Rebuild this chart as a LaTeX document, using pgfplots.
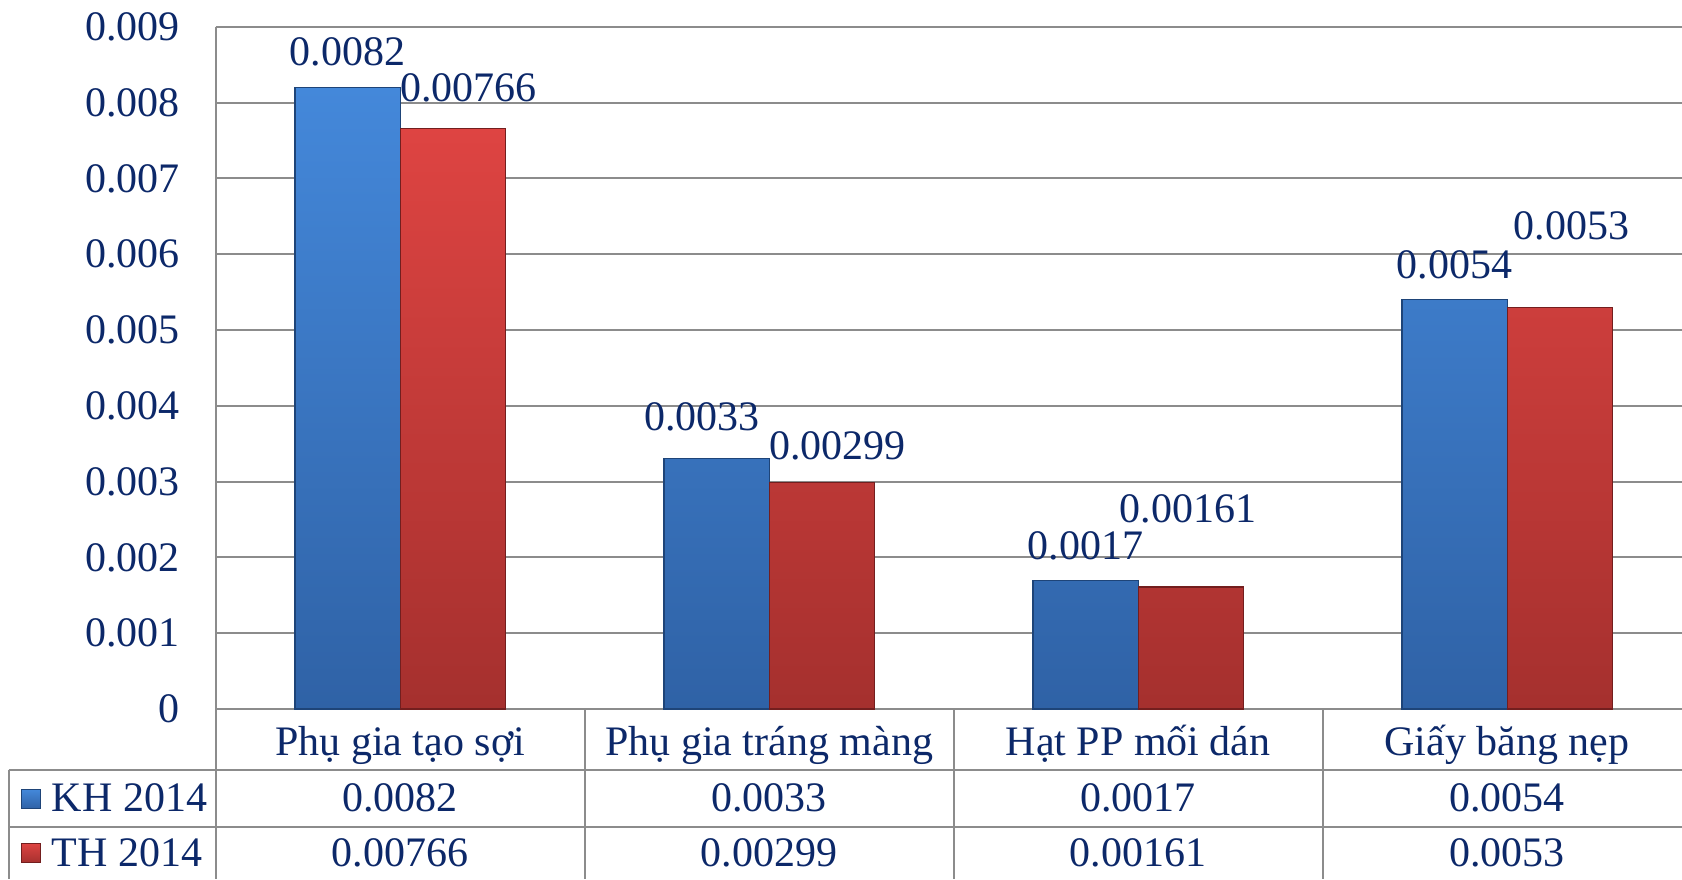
\documentclass[border=0pt]{standalone}
\usepackage{fontspec}
\setmainfont{Liberation Serif}
\usepackage{pgfplots}
\pgfplotsset{compat=1.18}
\usepackage{pgfplotstable}

\definecolor{txt}{RGB}{12,40,105}
\definecolor{gridc}{RGB}{140,140,140}
\definecolor{bluetop}{RGB}{68,136,218}
\definecolor{bluebot}{RGB}{47,98,166}
\definecolor{blueedge}{RGB}{30,68,120}
\definecolor{redtop}{RGB}{222,68,66}
\definecolor{redbot}{RGB}{165,48,46}
\definecolor{rededge}{RGB}{115,30,30}

% x: category index, y: value, dx/dy: label offset from category centre (pt), lab: printed label
\pgfplotstableread{
x y dx dy lab
0 0.0082 -26.3 18.0 0.0082
1 0.0033 -33.5 20.8 0.0033
2 0.0017 -26.3 17.2 0.0017
3 0.0054 -26.3 17.2 0.0054
}\kh
\pgfplotstableread{
x y dx dy lab
0 0.00766 34.1 20.2 0.00766
1 0.00299 34.3 18.1 0.00299
2 0.00161 25.0 39.1 0.00161
3 0.0053 32.2 40.5 0.0053
}\th

\newcommand{\bigfont}{\fontsize{21}{25}\selectfont}

\begin{document}
\begin{tikzpicture}[font=\bigfont]
\useasboundingbox (0,0) rectangle (841pt,439.5pt);
\begin{axis}[
  at={(107.8pt,85pt)}, anchor=south west,
  scale only axis, width=738pt, height=341.1pt,
  xmin=-0.5, xmax=3.5, ymin=0, ymax=0.009,
  clip=false,
  axis x line*=bottom, axis y line*=left,
  axis line style={line width=1pt, color=gridc, -},
  ymajorgrids, grid style={line width=1pt, color=gridc},
  major tick length=0pt,
  scaled y ticks=false,
  ytick={0,0.001,0.002,0.003,0.004,0.005,0.006,0.007,0.008,0.009},
  yticklabels={0,0.001,0.002,0.003,0.004,0.005,0.006,0.007,0.008,0.009},
  yticklabel style={anchor=east, inner sep=0pt, xshift=-17.8pt, font=\bigfont, text=txt},
  xtick={0,1,2,3},
  xticklabels={Phụ gia tạo sợi, Phụ gia tráng màng, Hạt PP mối dán, Giấy băng nẹp},
  xticklabel style={anchor=base, inner sep=0pt, yshift=-23pt, font=\bigfont, text=txt},
  bar width=0.285,
  nodes near coords,
  point meta=explicit symbolic,
  visualization depends on={\thisrow{dx} \as \dx},
  visualization depends on={\thisrow{dy} \as \dy},
  every node near coord/.append style={anchor=center, inner sep=0pt,
    xshift=\dx*1pt, yshift=\dy*1pt, font=\bigfont, text=txt},
]
\addplot[ybar, bar shift=-0.1425, draw=blueedge, line width=0.6pt,
  top color=bluetop, bottom color=bluebot]
  table[x=x, y=y, meta=lab] {\kh};
\addplot[ybar, bar shift=0.1425, draw=rededge, line width=0.6pt,
  top color=redtop, bottom color=redbot]
  table[x=x, y=y, meta=lab] {\th};
\end{axis}

% data table below the axis
\begin{scope}[line width=1pt, gridc]
\draw (4.3pt,54.5pt) -- (845pt,54.5pt);
\draw (4.3pt,26pt) -- (845pt,26pt);
\draw (4.3pt,54.5pt) -- (4.3pt,0pt);
\draw (107.8pt,85pt) -- (107.8pt,0pt);
\draw (292.3pt,85pt) -- (292.3pt,0pt);
\draw (476.8pt,85pt) -- (476.8pt,0pt);
\draw (661.3pt,85pt) -- (661.3pt,0pt);
\end{scope}

\draw[blueedge, line width=0.5pt, top color=bluetop, bottom color=bluebot]
  (10.7pt,35.2pt) rectangle (20.3pt,44.8pt);
\draw[rededge, line width=0.5pt, top color=redtop, bottom color=redbot]
  (10.7pt,8.2pt) rectangle (20.3pt,17.8pt);

\begin{scope}[every node/.style={text=txt, inner sep=0pt}]
\node[anchor=base west] at (25.75pt,33.6pt) {KH 2014};
\node[anchor=base west] at (25.75pt,6.1pt) {TH 2014};
\node[anchor=base] at (200.05pt,33.6pt) {0.0082};
\node[anchor=base] at (384.55pt,33.6pt) {0.0033};
\node[anchor=base] at (569.05pt,33.6pt) {0.0017};
\node[anchor=base] at (753.55pt,33.6pt) {0.0054};
\node[anchor=base] at (200.05pt,6.1pt) {0.00766};
\node[anchor=base] at (384.55pt,6.1pt) {0.00299};
\node[anchor=base] at (569.05pt,6.1pt) {0.00161};
\node[anchor=base] at (753.55pt,6.1pt) {0.0053};
\end{scope}
\end{tikzpicture}
\end{document}
